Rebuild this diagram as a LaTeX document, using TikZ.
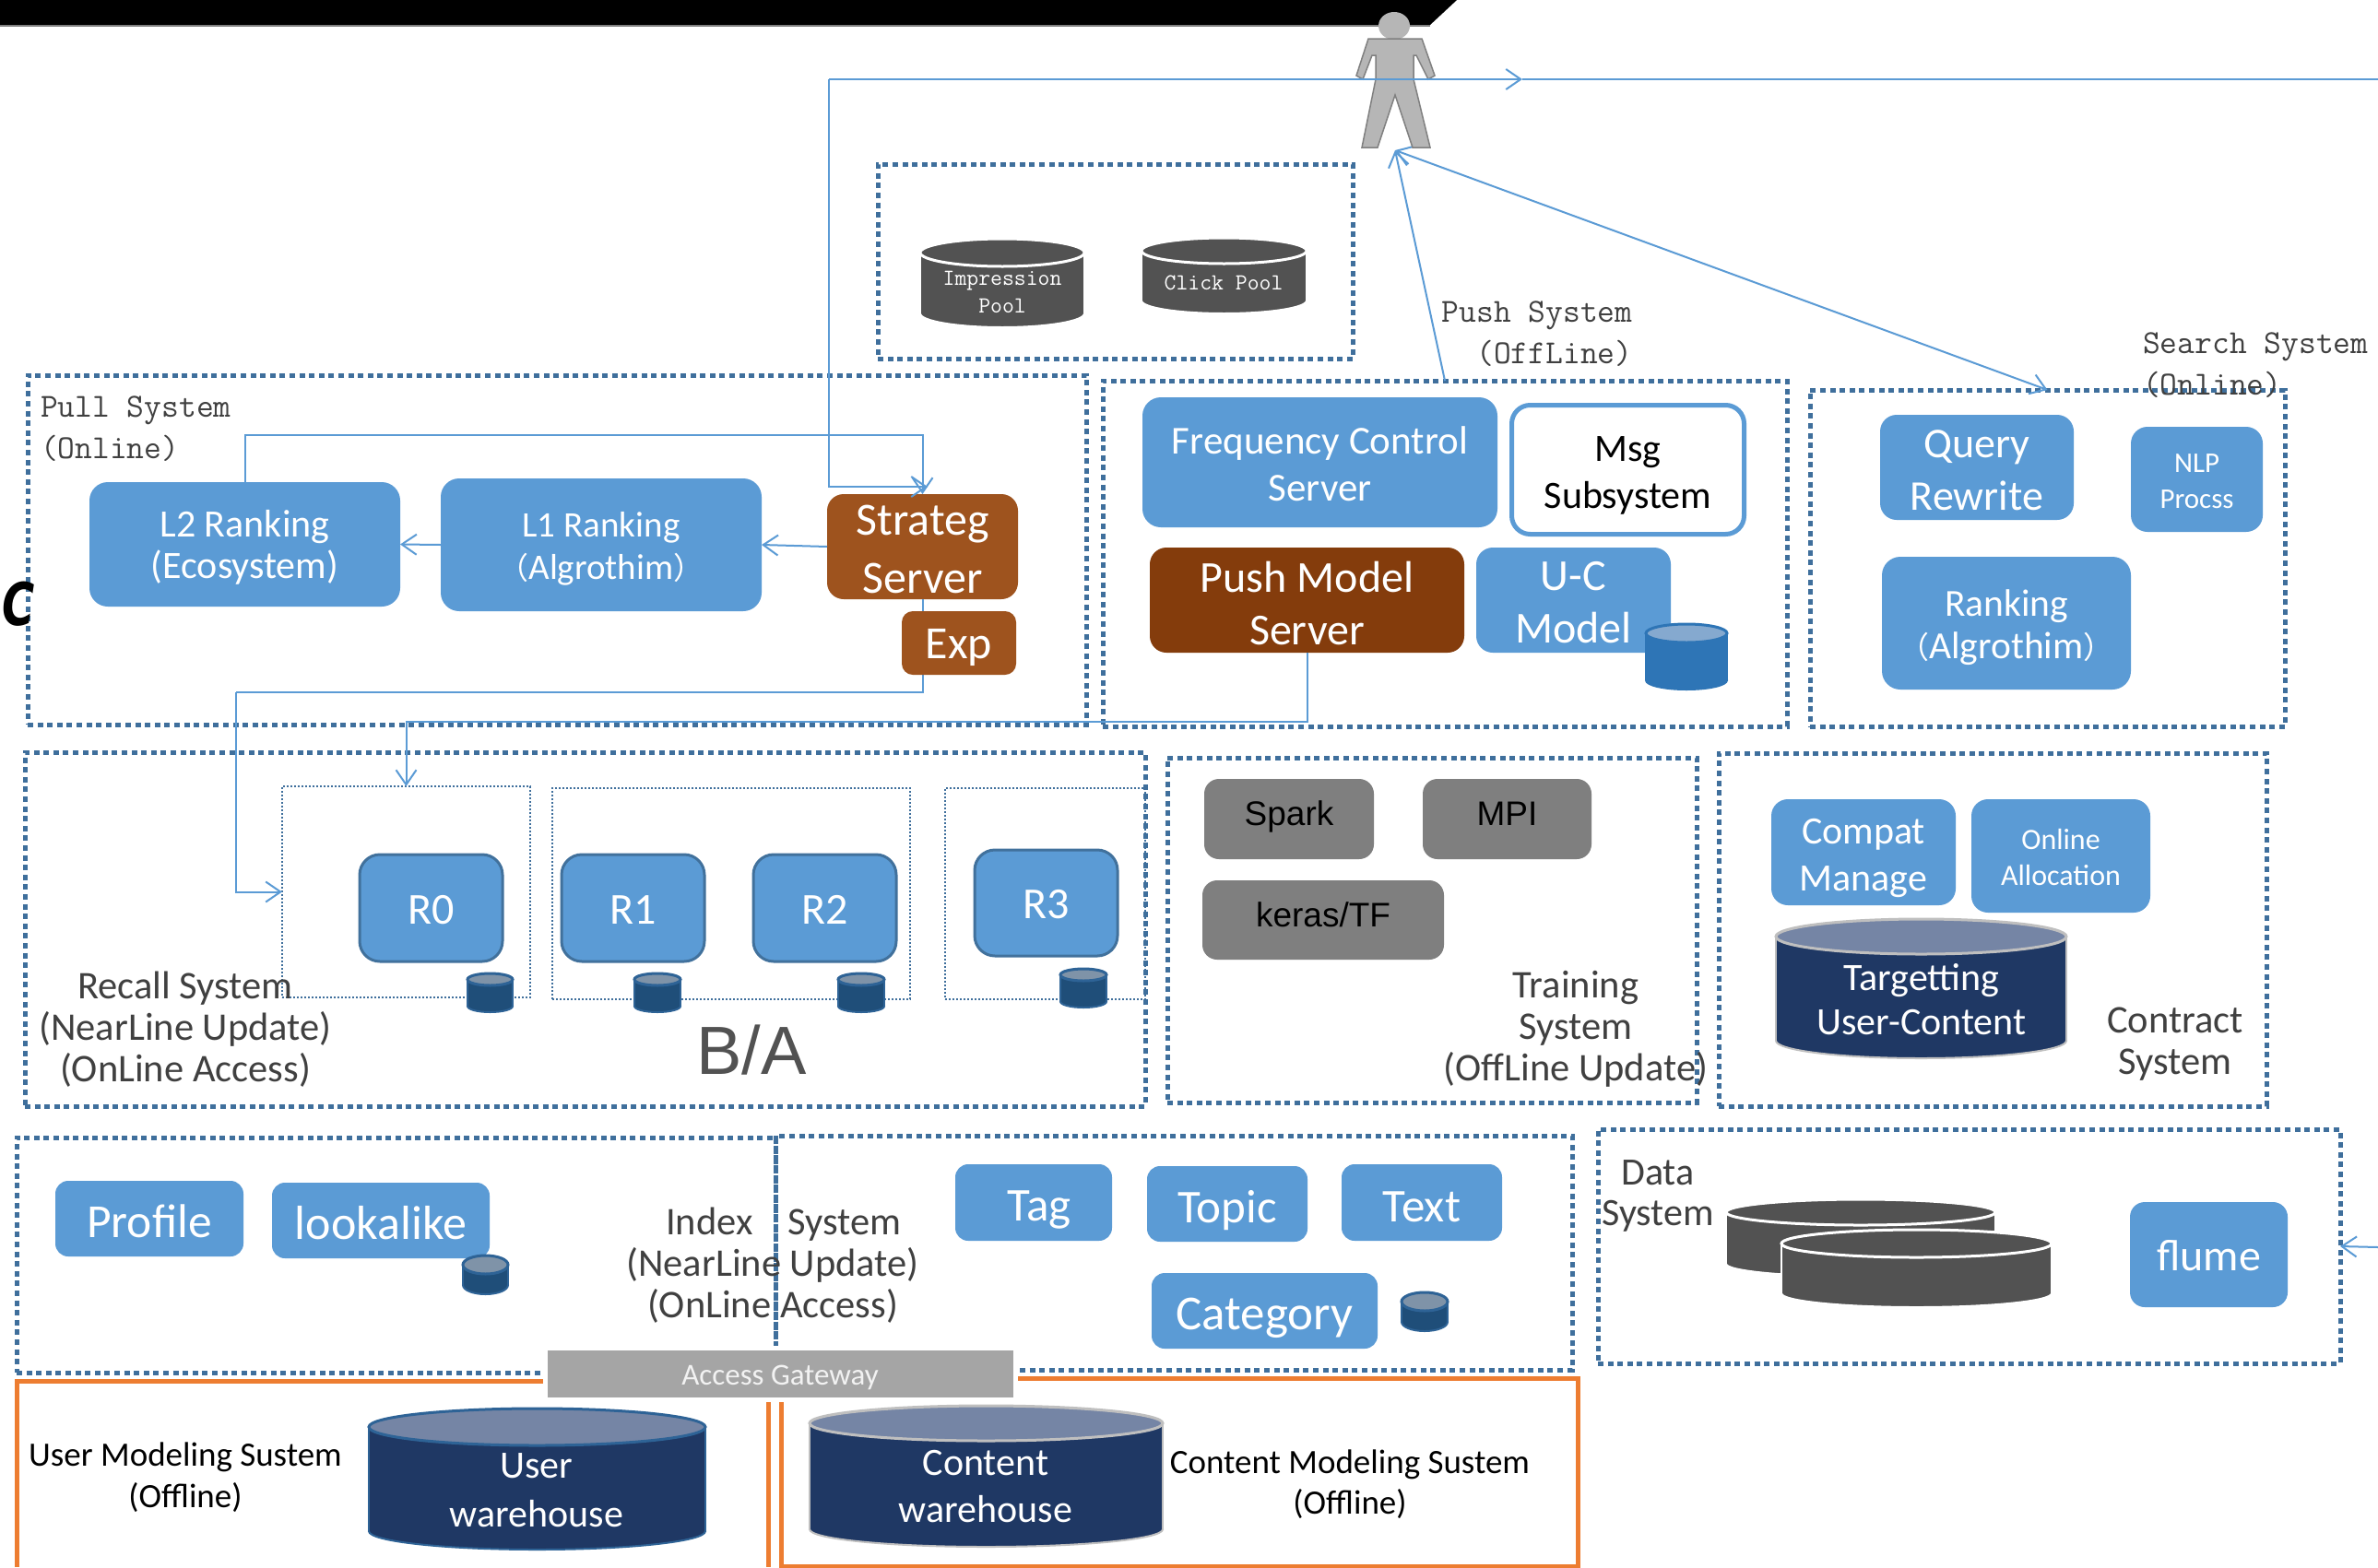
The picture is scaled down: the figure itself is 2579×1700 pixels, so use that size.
\documentclass[tikz,border=0pt]{standalone}
\usepackage{fontspec}
\setmainfont{Carlito}
\newfontfamily\cjkf{Noto Sans CJK SC}
\newfontfamily\arialf{Liberation Sans}
\newfontfamily\markf{DejaVu Sans}
\usetikzlibrary{arrows.meta}
\definecolor{bluefill}{HTML}{5B9BD5}
\definecolor{bluedark}{HTML}{41719C}
\definecolor{dotblue}{HTML}{3F6F9C}
\definecolor{brownA}{HTML}{9E531E}
\definecolor{brownB}{HTML}{843C0C}
\definecolor{greyA}{HTML}{7F7F7F}
\definecolor{greyB}{HTML}{A5A5A5}
\definecolor{greyC}{HTML}{525252}
\definecolor{textgrey}{HTML}{404040}
\definecolor{navy}{HTML}{1F3864}
\definecolor{navytop}{HTML}{7585A5}
\definecolor{cylblue}{HTML}{1F4E79}
\definecolor{cyltop}{HTML}{7F93A8}
\definecolor{cyledge}{HTML}{2E6396}
\definecolor{uctop}{HTML}{85A9CF}
\definecolor{ucbody}{HTML}{2E75B6}
\definecolor{orangeline}{HTML}{ED7D31}
\newcommand{\fs}[2]{\fontsize{#1pt}{#2pt}\selectfont}
% box: optional text shift, name, x1,y1,x2,y2, style, text
\newcommand{\bx}[8][0]{%
  \node[#7,minimum width={(#5-(#3))*1pt},minimum height={(#6-(#4))*1pt}] (#2) at ({(#3+#5)/2},{(#4+#6)/2}) {};
  \node[#7,fill=none,draw=none] (#2T) at ({(#3+#5)/2},{(#4+#6)/2+#1}) {#8};
}
\newcommand{\cyl}[9]{%
  \pgfmathsetmacro\cylcx{(#2+#4)/2}%
  \pgfmathsetmacro\cylrx{(#4-(#2))/2}%
  \pgfmathsetmacro\cylyt{#3+#6}%
  \pgfmathsetmacro\cylyb{#5-#6}%
  \node[inner sep=0pt,outer sep=0pt,minimum width={(#4-(#2))*1pt},minimum height={(#5-(#3))*1pt}] (#1) at ({(#2+#4)/2},{(#3+#5)/2}) {};
  \draw[draw=#9,fill=#7,line width=2pt] (\cylcx,\cylyb) ellipse [x radius=\cylrx pt,y radius=#6 pt];
  \fill[#7] (#2,\cylyt) rectangle (#4,\cylyb);
  \draw[draw=#9,line width=2pt] (#2,\cylyt) -- (#2,\cylyb) (#4,\cylyt) -- (#4,\cylyb);
  \draw[draw=#9,fill=#8,line width=3pt] (\cylcx,\cylyt) ellipse [x radius=\cylrx pt,y radius=#6 pt];
}
\tikzset{
  basebox/.style={inner sep=0pt,outer sep=0pt,align=center},
  bluebox/.style={basebox,fill=bluefill,text=white,rounded corners=#1},
  bluebox/.default=20pt,
  rbox/.style={basebox,fill=bluefill,draw=bluedark,line width=3pt,text=white,rounded corners=22pt,font=\fs{48}{52}},
  brownbox/.style={basebox,fill=brownA,text=white,rounded corners=18pt},
  greybox/.style={basebox,fill=greyA,text=black,rounded corners=16pt,font=\arialf\fs{37}{40}},
  dotbox/.style={basebox,draw=dotblue,line width=5pt,dash pattern=on 6pt off 4.6pt},
  thinbox/.style={basebox,draw=dotblue,line width=2pt,dash pattern=on 2.2pt off 1.8pt},
  orangebox/.style={draw=orangeline,line width=5pt},
  lbl/.style={inner sep=0pt,outer sep=0pt,align=center,text=textgrey,font=\fs{42.5}{45}},
  mono/.style={inner sep=0pt,outer sep=0pt,align=left,anchor=west,text=textgrey,font=\ttfamily\fs{36.5}{44.5}},
  cyltext/.style={inner sep=0pt,outer sep=0pt,align=center,text=white},
  conn/.style={draw=bluefill,line width=2pt},
  tip/.tip={Straight Barb[length=16pt,width=22pt]}
}
\begin{document}
\begin{tikzpicture}[x=1pt,y=-1pt]
\useasboundingbox (0,0) rectangle (2579,1700);
\fill[white] (0,0) rectangle (2579,1700);

% top bar
\fill[black] (0,0) -- (1580,0) -- (1551,27) -- (0,27) -- cycle;
\draw[gray,line width=1.5pt] (0,28) -- (1551,28);

% orange frames
\draw[orangebox] (18,1700) -- (18,1498) -- (833,1498) -- (833,1700);
\draw[orangebox] (847,1699) -- (847,1495) -- (1711,1495) -- (1711,1699) -- cycle;

% dotted frames
\bx{PoolSys}{952}{178}{1467}{389}{dotbox}{}
\bx{PullSys}{30}{407}{1178}{786}{dotbox}{}
\bx{PushSys}{1196}{413}{1938}{788}{dotbox}{}
\bx{SearchSys}{1963}{423}{2478}{788}{dotbox}{}
\bx{RecallSys}{27}{816}{1242}{1200}{dotbox}{}
\bx{TrainSys}{1266}{822}{1840}{1196}{dotbox}{}
\bx{ContractSys}{1864}{817}{2458}{1200}{dotbox}{}
\bx{IndexL}{18}{1234}{841}{1489}{dotbox}{}
\bx{IndexR}{841}{1232}{1705}{1486}{dotbox}{}
\bx{DataSys}{1733}{1225}{2538}{1479}{dotbox}{}
\bx{G0}{306}{853}{575}{1082}{thinbox}{}
\bx{G1}{599}{855}{987}{1084}{thinbox}{}
\bx{G3}{1025}{855}{1242}{1084}{thinbox}{}

% pools
\cyl{Imp}{998}{259}{1176}{355}{15}{greyC}{greyC}{white}
\node[cyltext,font=\ttfamily\fs{25}{30}] (ImpT) at (1087,317) {Impression\\Pool};
\cyl{Clk}{1238}{258}{1417}{340}{14}{greyC}{greyC}{white}
\node[cyltext,font=\ttfamily\fs{25}{30}] (ClkT) at (1327,307) {Click Pool};

% pull system
\bx[3]{L2}{97}{523}{434}{658}{bluebox,font=\fs{42}{45}}{L2 Ranking\\(Ecosystem)}
\bx[4]{L1}{478}{519}{826}{663}{bluebox,font=\fs{39}{46}}{L1 Ranking\\{\cjkf\fs{33}{46}（}Algrothim{\cjkf\fs{33}{46}）}}
\bx[3]{Strat}{897}{536}{1104}{650}{brownbox,font=\fs{50}{63}}{Strateg\\Server}

% connectors of pull system
\coordinate (turn1) at (256,751);
\coordinate (turn2) at (441,783);
\coordinate (turn3) at (899,86);
\coordinate (chev) at (1651,86);
\coordinate (farR) at (2579,86);
\coordinate (stratIn) at (1006,528);
\coordinate (feet) at (1513,163);
\coordinate (farRb) at (2579,1353);
\draw[conn] (Strat.south) |- (turn1);
\draw[conn,-{tip}] (turn1) |- (G0.west);
\draw[conn,-{tip}] (L2.north) -- ++(0,-51) -| (Strat.north);
\draw[conn,-{tip}] (L1.west) -- (L2.east);
\draw[conn,-{tip}] (Strat.west) -- (L1.east);
\draw[conn,-{tip}] (turn3) |- (stratIn);
\draw[conn] (chev) -- (farR);
\bx[5]{Exp}{978}{663}{1102}{732}{brownbox,rounded corners=12pt,font=\fs{50}{55}}{Exp}

\node[mono] (PullT) at (44,465) {Pull System\\(Online)};

% push system
\bx[2]{Freq}{1239}{431}{1624}{572}{bluebox,font=\fs{43}{51}}{Frequency Control\\Server}
\bx[6]{Msg}{1639.5}{439.5}{1891.5}{579.5}{basebox,fill=white,draw=bluefill,line width=5pt,rounded corners=20pt,text=black,font=\fs{42}{51}}{Msg\\Subsystem}
\bx[3]{Push}{1247}{594}{1588}{708}{basebox,fill=brownB,text=white,rounded corners=18pt,font=\fs{48}{57}}{Push Model\\Server}
\bx[3]{UC}{1601}{594}{1812}{708}{bluebox=18pt,font=\fs{48}{57}}{U-C\\Model}
\cyl{UCdb}{1785}{677}{1873}{748}{10}{ucbody}{uctop}{ucbody}
\node[mono,anchor=center,align=center] (PushT) at (1667,362) {Push System\\\ \ (OffLine)};
\draw[conn] (Push.south) |- (turn2);
\draw[conn,-{tip}] (turn2) -| (G0.north);
\draw[conn,-{tip}] (PushSys.north) -- (feet);
\draw[conn,{tip}-{tip}] (feet) -- (SearchSys.north);

% search system
\bx[3]{Query}{2039}{450}{2249}{564}{bluebox=18pt,font=\fs{46}{57}}{Query\\Rewrite}
\bx[2]{NLP}{2311}{463}{2454}{577}{bluebox=18pt,font=\fs{31}{39}}{NLP\\Procss}
\bx[5]{Rank}{2041}{604}{2311}{748}{bluebox,font=\fs{41.5}{46}}{Ranking\\{\cjkf\fs{33}{46}（}Algrothim{\cjkf\fs{33}{46}）}}
\node[mono,align=left] (SearchT) at (2324,396) {Search System\\(Online)};

% recall system
\bx[2]{R0}{390}{927}{545}{1043}{rbox}{R0}
\bx[2]{R1}{609}{927}{764}{1043}{rbox}{R1}
\bx[2]{R2}{817}{927}{972}{1043}{rbox}{R2}
\bx[2]{R3}{1057}{922}{1212}{1037}{rbox}{R3}
\cyl{R0db}{507}{1056}{556}{1098}{6.5}{cylblue}{cyltop}{cyledge}
\cyl{R1db}{688}{1056}{738}{1098}{6.5}{cylblue}{cyltop}{cyledge}
\cyl{R2db}{909}{1056}{959}{1098}{6.5}{cylblue}{cyltop}{cyledge}
\cyl{R3db}{1150}{1051}{1200}{1093}{6.5}{cylblue}{cyltop}{cyledge}
\node[lbl] (RecallT) at (201,1117) {Recall System\\(NearLine Update)\\(OnLine Access)};
\node[inner sep=0pt,outer sep=0pt,text=greyC,font=\arialf\fs{74}{78}] (BA) at (815,1139) {B/A};

% training
\bx[-3]{Spark}{1306}{845}{1490}{932}{greybox}{Spark}
\bx[-6]{MPI}{1543}{845}{1726}{932}{greybox}{MPI}
\bx[-6]{Keras}{1304}{955}{1566}{1041}{greybox}{keras/TF}
\node[lbl] (TrainT) at (1709,1116) {Training\\System\\(OffLine Update)};

% contract
\bx[6]{Compat}{1921}{867}{2121}{982}{bluebox=18pt,font=\fs{42}{51}}{Compat\\Manage}
\bx[1]{Online}{2138}{867}{2332}{990}{bluebox=18pt,font=\fs{32}{39}}{Online\\Allocation}
\cyl{Target}{1926}{997}{2241}{1148}{19}{navy}{navytop}{lightgray}
\node[cyltext,font=\fs{42}{48}] (TargetT) at (2084,1084) {Targetting\\User-Content};
\node[lbl] (ContractT) at (2359,1133) {Contract\\System};

% index
\bx[3]{Profile}{60}{1281}{264}{1363}{bluebox=14pt,font=\fs{51.5}{55}}{Profile}
\bx[3]{Look}{295}{1283}{531}{1365}{bluebox=14pt,font=\fs{52}{55}}{lookalike}
\cyl{LookDb}{502}{1362}{551}{1404}{10}{cylblue}{cyltop}{cyledge}
\bx[8]{Tag}{1036}{1263}{1206}{1346}{bluebox=14pt,font=\fs{51}{55}}{\hspace*{12pt}Tag}
\bx[7]{Topic}{1244}{1265}{1418}{1347}{bluebox=14pt,font=\fs{51}{55}}{Topic}
\bx[5]{TextB}{1455}{1263}{1629}{1346}{bluebox=14pt,font=\fs{51}{55}}{Text}
\bx[8]{Category}{1249}{1381}{1494}{1463}{bluebox=14pt,font=\fs{53}{56}}{Category}
\cyl{CatDb}{1520}{1402}{1570}{1444}{10}{cylblue}{cyltop}{cyledge}
\node[lbl] (IndexT) at (838,1373) {\hspace*{24pt}Index\ \ \ \ System\\(NearLine Update)\\(OnLine Access)};

% data
\node[lbl,font=\fs{42}{44}] (DataT) at (1798,1297) {Data\\System};
\cyl{DataA}{1872}{1301}{2164}{1385}{14}{greyC}{greyC}{white}
\cyl{DataB}{1932}{1334}{2225}{1418}{15}{greyC}{greyC}{white}
\bx[1]{Flume}{2310}{1304}{2481}{1418}{bluebox=16pt,font=\fs{48}{52}}{flume}
\draw[conn,-{tip}] (farRb) -- (DataSys.east);

% gateway
\bx[4]{Gate}{591}{1462}{1101}{1518}{basebox,fill=greyB,draw=white,line width=5pt,text=white!95!black,font=\fs{33}{36}}{Access Gateway}

% warehouses
\cyl{UserWh}{400}{1528}{765}{1681}{20}{navy}{navytop}{cyledge}
\node[cyltext,font=\fs{42}{53}] (UserWhT) at (582,1617) {User\\warehouse};
\cyl{ContWh}{878}{1525}{1261}{1678}{19}{navy}{navytop}{lightgray}
\node[cyltext,font=\fs{42}{51}] (ContWhT) at (1069,1613) {Content\\warehouse};
\node[lbl,text=black,font=\fs{37}{45}] (UserMT) at (201,1603) {User Modeling Sustem\\(Offline)};
\node[lbl,text=black,font=\fs{37}{44}] (ContMT) at (1464,1610) {Content Modeling Sustem\\(Offline)};

% person
\fill[lightgray!85!gray] (1512,28) ellipse [x radius=17pt,y radius=15pt];
\draw[draw=gray,fill=lightgray!85!gray,line width=1.5pt] (1501,42) -- (1524,42) -- (1542,42) -- (1556,82) -- (1549,86) -- (1536,60) -- (1533,60) -- (1533,86) -- (1551,160) -- (1532,160) -- (1513,103) -- (1494,160) -- (1477,160) -- (1492,86) -- (1492,60) -- (1488,60) -- (1478,86) -- (1471,82) -- (1484,42) -- cycle;
\draw[conn,-{tip}] (turn3) -- (chev);

% stray mark
\node[inner sep=0pt,outer sep=0pt,xscale=.75,font=\markf\bfseries\itshape\fs{64}{66}] (Cmark) at (20,655) {C};
\end{tikzpicture}
\end{document}
